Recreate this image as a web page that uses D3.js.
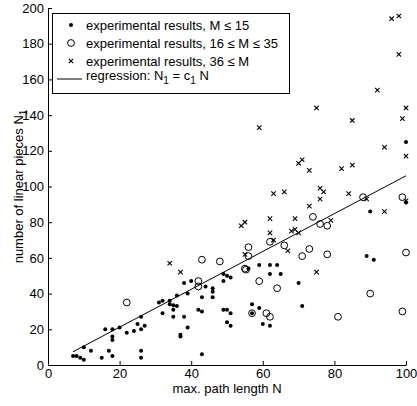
<!DOCTYPE html>
<html><head><meta charset="utf-8">
<script src="https://cdn.jsdelivr.net/npm/d3@7"></script>
<style>
body{margin:0;background:#fff;}
text{font-family:"Liberation Sans",Arial,sans-serif;fill:#000;}
</style></head>
<body><svg id="c" width="417" height="406"></svg>
<script>
// M <= 15 (filled dots)
const smallM = [[7,5],[8,5],[9,4],[10,3],[10,10],[12,8],[15,4],[17,8],[18,5],[16,20],[18,20],[18,16],[18,14],[20,21],[22,18],[24,19],[26,27],[25,23],[27,22],[26,20],[26,8],[26,4],[43,6],[31,35],[32,36],[32,29],[34,36],[34,34],[35,33.5],[36,33],[35,31],[35,27],[36,39],[38,46],[38,27],[39,40],[39,21],[37,17],[37,16],[40,47],[42,31],[43,30],[43,38],[44,44],[46,43],[46,41],[46,38],[49,51],[49,47],[50,50],[51,49],[49,31],[50,31],[51,29],[50,24],[51,22],[56,54],[59,56],[62,56],[64,56],[62,51],[65,51],[57,34],[59,32],[57,29],[60,23],[62,22],[70,46],[71,33],[89,61],[91,59],[90,86],[100,91],[100,125]];
// 16 <= M <= 35 (open circles)
const midM = [[22,35],[43,59],[48,58],[42,47],[42,44],[56,66],[56,61],[55,54],[55.3,53.4],[59,47],[57,29],[61,29],[62,27],[62,69],[66,67],[64,43],[74,83],[76,79],[78,78],[88,94],[99,94],[73,65],[71,61],[78,62],[100,63],[90,40],[81,27],[99,30]];
// 36 <= M (crosses)
const largeM = [[34,57],[37,52],[55,62],[54,78],[55,80],[62,82],[62,74],[63,70],[63,96],[66,97],[67,64],[68,75],[69,76],[70,74],[69,82],[73,89],[76,93],[76,99],[77,97],[84,96],[79,81],[89,93],[94,86],[100,92],[75,52],[70,113],[71,115],[73,109],[82,110],[85,112],[94,122],[100,117],[85,137],[99,138],[75,144],[100,144],[92,154],[98,174],[96,194],[98,195.5],[59,133]];
const c1 = 1.06;
const regN = [7, 100];
const xTicks = [0,20,40,60,80,100];
const yTicks = [0,20,40,60,80,100,120,140,160,180,200];
const legendLabels = ["experimental results, M \u2264 15","experimental results, 16 \u2264 M \u2264 35","experimental results, 36 \u2264 M"];

const svg = d3.select("#c");
const L=48, R=406, T=8, B=365;
const x = d3.scaleLinear().domain([0,100]).range([L,R]);
const y = d3.scaleLinear().domain([0,200]).range([B,T]);
const fs = 13;

// axes
const xa = svg.append("g").attr("transform",`translate(0,${B})`)
  .call(d3.axisBottom(x).tickValues(xTicks).tickSizeInner(-4).tickSizeOuter(0).tickPadding(4));
const ya = svg.append("g").attr("transform",`translate(${L},0)`)
  .call(d3.axisLeft(y).tickValues(yTicks).tickSizeInner(-4).tickSizeOuter(0).tickPadding(4));
[xa,ya].forEach(a=>{
  a.selectAll("path,line").attr("stroke","#000").attr("stroke-width",1);
  a.selectAll("text").style("font-size",fs+"px").attr("font-family",null);
});

// regression line
const line = d3.line().x(d=>x(d)).y(d=>y(c1*d));
svg.append("path").attr("d",line(regN)).attr("fill","none").attr("stroke","#000").attr("stroke-width",1);

// markers
function dot(g,cx,cy){g.append("circle").attr("cx",cx).attr("cy",cy).attr("r",2).attr("fill","#000");}
function ring(g,cx,cy){g.append("circle").attr("cx",cx).attr("cy",cy).attr("r",3.4).attr("fill","none").attr("stroke","#000").attr("stroke-width",1);}
function cross(g,cx,cy){const s=2.2;g.append("path").attr("d",`M${cx-s},${cy-s}L${cx+s},${cy+s}M${cx-s},${cy+s}L${cx+s},${cy-s}`).attr("stroke","#000").attr("stroke-width",1.1).attr("fill","none");}
const gm = svg.append("g");
midM.forEach(d=>ring(gm,x(d[0]),y(d[1])));
largeM.forEach(d=>cross(gm,x(d[0]),y(d[1])));
smallM.forEach(d=>dot(gm,x(d[0]),y(d[1])));

// axis labels
svg.append("text").attr("x",(L+R)/2).attr("y",393).attr("text-anchor","middle").style("font-size",fs+"px").text("max. path length N");
const yl = svg.append("text").attr("transform",`translate(23,${(T+B)/2}) rotate(-90)`).attr("text-anchor","middle").style("font-size",fs+"px");
yl.append("tspan").text("number of linear pieces N");
yl.append("tspan").attr("dy",4).style("font-size","10px").text("1");

// legend
const lg = svg.append("g");
lg.append("rect").attr("x",52.5).attr("y",13.5).attr("width",237).attr("height",80).attr("fill","#fff").attr("stroke","#000").attr("stroke-width",1);
const rows=[25,43,61,79];
dot(lg,71,rows[0]); ring(lg,71,rows[1]); cross(lg,71,rows[2]);
lg.append("line").attr("x1",57).attr("x2",82).attr("y1",rows[3]).attr("y2",rows[3]).attr("stroke","#000");
legendLabels.forEach((t,i)=>lg.append("text").attr("x",86).attr("y",rows[i]+5).style("font-size",fs+"px").text(t));
const rt = lg.append("text").attr("x",86).attr("y",rows[3]+1).style("font-size",fs+"px");
rt.append("tspan").text("regression: N");
rt.append("tspan").attr("dy",4).style("font-size","10px").text("1");
rt.append("tspan").attr("dy",-4).text(" = c");
rt.append("tspan").attr("dy",4).style("font-size","10px").text("1");
rt.append("tspan").attr("dy",-4).text(" N");
</script></body></html>
